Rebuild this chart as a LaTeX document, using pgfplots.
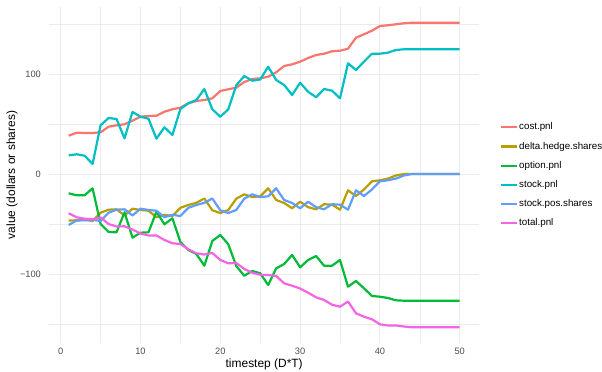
\documentclass[border=0pt]{standalone}
\usepackage{fontspec}
\setmainfont{Liberation Sans}
\usepackage{pgfplots}
\usepackage{pgfplotstable}
\pgfplotsset{compat=1.18}

\definecolor{ccost}{HTML}{F8766D}
\definecolor{cdelta}{HTML}{B79F00}
\definecolor{coption}{HTML}{00BA38}
\definecolor{cstock}{HTML}{00BFC4}
\definecolor{cpos}{HTML}{619CFF}
\definecolor{ctotal}{HTML}{F564E3}
\definecolor{gridgray}{HTML}{EBEBEB}
\definecolor{tickgray}{HTML}{4D4D4D}

% hedging simulation, one row per timestep
\pgfplotstableread{
t  cost   delta  option  stock  pos    total
1  38.3  -46.5  -19.3   18.7  -51.0  -39.3
2  41.3  -46.3  -21.3   19.7  -46.5  -43.3
3  41.0  -45.8  -21.3   18.3  -46.3  -44.7
4  41.0  -47.0  -14.3   10.0  -45.8  -45.3
5  41.7  -38.7  -50.0   48.7  -47.0  -43.5
6  47.3  -35.7  -58.0   56.0  -38.7  -50.0
7  48.7  -35.3  -58.3   55.0  -35.7  -52.5
8  49.7  -41.5  -38.3   35.7  -35.3  -52.3
9  53.3  -34.7  -63.7   62.0  -41.5  -55.5
10 57.3  -36.0  -58.7   57.3  -34.7  -59.5
11 58.0  -36.7  -58.3   55.3  -36.0  -61.5
12 58.3  -43.3  -37.7   35.3  -36.7  -61.5
13 62.3  -40.8  -50.3   46.7  -43.3  -66.0
14 64.7  -42.0  -44.3   39.0  -40.8  -69.3
15 66.3  -33.8  -68.0   65.0  -42.0  -70.0
16 70.7  -31.0  -76.0   70.7  -33.8  -75.3
17 73.0  -28.8  -80.0   74.0  -31.0  -79.3
18 74.0  -24.5  -91.7   85.0  -28.8  -80.5
19 75.7  -36.3  -67.0   64.7  -24.5  -79.0
20 83.0  -39.0  -61.0   57.3  -36.3  -86.0
21 84.7  -36.0  -70.3   64.7  -39.0  -89.3
22 86.3  -24.7  -92.0   88.7  -36.0  -89.0
23 92.0  -20.3 -101.7   98.0  -24.7  -95.0
24 95.0  -23.1  -97.0   93.3  -20.3  -98.7
25 95.7  -22.3  -99.3   94.5  -23.1 -100.8
26 97.3  -14.3 -111.0  107.3  -22.3 -101.0
27 101.7 -26.0  -94.3   94.0  -14.3 -102.0
28 108.0 -29.0  -90.0   89.0  -26.0 -109.3
29 109.7 -34.3  -81.0   79.0  -29.0 -111.7
30 112.3 -27.7  -93.3   91.3  -34.3 -114.5
31 116.0 -33.2  -86.0   82.3  -27.7 -118.7
32 119.0 -35.3  -82.0   76.7  -33.2 -123.3
33 120.3 -30.2  -91.7   85.0  -35.3 -126.0
34 122.7 -30.7  -91.7   83.3  -30.2 -130.7
35 123.3 -35.7  -86.0   75.7  -30.7 -132.7
36 125.3 -16.3 -112.7  110.7  -35.7 -127.5
37 136.3 -22.0 -107.0  104.0  -16.3 -139.3
38 139.7 -15.5 -114.3  112.3  -22.0 -142.7
39 143.3  -7.3 -122.0  120.3  -15.5 -145.3
40 148.0  -6.3 -122.7  120.3   -7.3 -150.3
41 148.7  -4.6 -124.0  121.3   -6.3 -151.5
42 149.7  -1.5 -126.3  124.0   -4.6 -151.5
43 150.7   0.0 -126.7  124.7   -1.5 -152.5
44 151.3   0.0 -126.7  124.7    0.0 -153.3
45 151.3   0.0 -126.7  124.7    0.0 -153.3
46 151.3   0.0 -126.7  124.7    0.0 -153.3
47 151.3   0.0 -126.7  124.7    0.0 -153.3
48 151.3   0.0 -126.7  124.7    0.0 -153.3
49 151.3   0.0 -126.7  124.7    0.0 -153.3
50 151.3   0.0 -126.7  124.7    0.0 -153.3
}\hedgedata

\begin{document}
\begin{tikzpicture}
\path[use as bounding box] (0,0) rectangle (602bp,372bp);
\begin{axis}[
  at={(49.1bp,29.5bp)}, anchor=south west,
  scale only axis, width=430.2bp, height=335bp,
  xmin=-1.45, xmax=52.45, ymin=-168.5, ymax=166.5,
  axis line style={draw=none},
  tick style={draw=none},
  xtick={0,10,20,30,40,50}, xticklabels={0,10,20,30,40,50},
  minor xtick={5,15,25,35,45},
  ytick={-100,0,100}, yticklabels={−100,0,100},
  minor ytick={-150,-50,50,150},
  grid=both,
  major grid style={draw=gridgray, line width=0.9bp},
  minor grid style={draw=gridgray, line width=0.5bp},
  ticklabel style={font=\fontsize{9.3}{10.5}\selectfont, text=tickgray, inner sep=0pt},
  xticklabel style={anchor=north, yshift=-5.5bp},
  yticklabel style={anchor=east, xshift=-8bp},
  xlabel={timestep (D*T)},
  ylabel={value (dollars or shares)},
  label style={font=\fontsize{12}{14}\selectfont},
  xlabel style={at={(axis description cs:0.5,-0.0642)}, anchor=center},
  ylabel style={at={(axis description cs:-0.0862,0.5)}, anchor=center},
  legend style={draw=none, fill=none, inner sep=0pt, outer sep=0pt,
    anchor=west, at={(axis description cs:1.0481,0.499)},
    font=\fontsize{9.8}{11}\selectfont, row sep=10.1bp, column sep=1.5bp,
    nodes={inner sep=0pt, text height=7.1bp, text depth=2bp}},
  legend cell align=left,
  legend image code/.code={\draw[#1] (0bp,0bp) -- (15.5bp,0bp);},
  every axis plot/.append style={line width=2.2bp, line join=round},
]
\addplot[ccost]   table[x=t, y=cost]   {\hedgedata};
\addlegendentry{cost.pnl}
\addplot[cdelta]  table[x=t, y=delta]  {\hedgedata};
\addlegendentry{delta.hedge.shares}
\addplot[coption] table[x=t, y=option] {\hedgedata};
\addlegendentry{option.pnl}
\addplot[cstock]  table[x=t, y=stock]  {\hedgedata};
\addlegendentry{stock.pnl}
\addplot[cpos]    table[x=t, y=pos]    {\hedgedata};
\addlegendentry{stock.pos.shares}
\addplot[ctotal]  table[x=t, y=total]  {\hedgedata};
\addlegendentry{total.pnl}
\end{axis}
\end{tikzpicture}
\end{document}
